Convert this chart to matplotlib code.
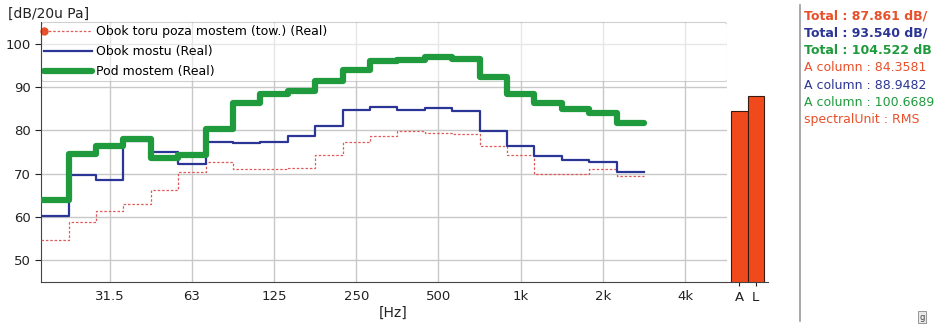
import numpy as np
import matplotlib
matplotlib.use('Agg')
import matplotlib.pyplot as plt

# 1/3-octave band centres 20 Hz .. 2.5 kHz
band_exp = np.arange(-17, 5)
centres = 1000 * 2.0 ** (band_exp / 3)
edges = np.append(centres * 2 ** (-1 / 6), centres[-1] * 2 ** (1 / 6))

# levels in dB
obok_toru = [54.6, 58.9, 61.4, 62.9, 66.2, 70.3, 72.7, 71.0, 71.1, 71.4, 74.3,
             77.3, 78.6, 79.8, 79.4, 79.2, 76.3, 74.3, 69.9, 69.9, 71.0, 69.4]
obok_mostu = [60.2, 69.7, 68.6, 77.5, 75.0, 72.2, 77.4, 77.0, 77.3, 78.6, 81.1,
              84.6, 85.4, 84.8, 85.1, 84.4, 79.8, 76.4, 74.0, 73.1, 72.6, 70.5]
pod_mostem = [63.9, 74.6, 76.3, 77.9, 73.7, 74.3, 80.3, 86.4, 88.3, 89.1, 91.3,
              94.0, 96.0, 96.2, 96.9, 96.5, 92.3, 88.3, 86.4, 85.0, 84.0, 81.7]

series_names = ['Obok toru poza mostem (tow.) (Real)', 'Obok mostu (Real)', 'Pod mostem (Real)']

tick_freqs = [31.25, 62.5, 125, 250, 500, 1000, 2000, 4000]
tick_labels = ['31.5', '63', '125', '250', '500', '1k', '2k', '4k']

bar_labels = ['A', 'L']
bar_values = [84.3581, 87.861]

info_lines = ['Total : 87.861 dB/', 'Total : 93.540 dB/', 'Total : 104.522 dB',
              'A column : 84.3581', 'A column : 88.9482', 'A column : 100.6689',
              'spectralUnit : RMS']

red = '#e8502a'
blue = '#2b3595'
green = '#1f9a3c'
info_colors = [red, blue, green, red, blue, green, red]
info_bold = [True, True, True, False, False, False, False]

W, H = 936, 325
plt.rcParams['font.family'] = ['DejaVu Sans']
fig = plt.figure(figsize=(W / 100, H / 100), dpi=100)

ax = fig.add_axes([41 / W, (H - 282) / H, (727 - 41) / W, (282 - 22) / H])
axb = fig.add_axes([727 / W, (H - 282) / H, (768 - 727) / W, (282 - 22) / H], sharey=ax)


def steps(vals):
    # repeat the last level so the final band is drawn to its upper edge
    return list(vals) + [vals[-1]]


ax.step(edges, steps(obok_toru), where='post', color='#e05a5a', lw=0.9,
        ls=(0, (2, 1.5)), label=series_names[0], zorder=3)
ax.step(edges, steps(obok_mostu), where='post', color=blue, lw=1.6,
        label=series_names[1], zorder=3)
ax.step(edges, steps(pod_mostem), where='post', color=green, lw=4.5,
        solid_joinstyle='round', solid_capstyle='round', label=series_names[2], zorder=3)

ax.set_xscale('log')
ax.set_xlim(17.5, 5700)
ax.set_ylim(45, 105)
ax.set_xticks(tick_freqs)
ax.set_xticklabels(tick_labels)
ax.minorticks_off()
ax.set_yticks([50, 60, 70, 80, 90, 100])
ax.grid(True, color='#c8c8c8', lw=1.0)
ax.set_axisbelow(True)
for s in ['top', 'right']:
    ax.spines[s].set_visible(False)
for s in ['left', 'bottom']:
    ax.spines[s].set_color('#444444')
ax.tick_params(axis='both', labelsize=9.5, colors='#222222', length=4, width=0.8)
ax.tick_params(axis='x', length=0, pad=6)

leg = ax.legend(loc='upper left', bbox_to_anchor=(0, 1, 1, 0), mode='expand',
                borderaxespad=0, fontsize=9, handlelength=3.85, handletextpad=0.3,
                labelspacing=0.55, borderpad=0.25, fancybox=True,
                framealpha=0.55, edgecolor='#aaaaaa')
leg.get_frame().set_linewidth(0.8)
leg.set_zorder(2)
h0 = leg.legend_handles[0]
h0.set_marker('o')
h0.set_markersize(5)
h0.set_markerfacecolor(red)
h0.set_markeredgecolor(red)
h0.set_markevery([0])

# A / L bars
axb.bar(range(len(bar_values)), bar_values, width=1.0, color='#f04a1c',
        edgecolor='#3a1a10', lw=0.8)
axb.set_xlim(-0.78, 1.78)
axb.set_xticks(range(len(bar_labels)))
axb.set_xticklabels(bar_labels)
for s in ['top', 'right', 'left']:
    axb.spines[s].set_visible(False)
axb.spines['bottom'].set_color('#444444')
axb.tick_params(axis='y', left=False, labelleft=False)
axb.tick_params(axis='x', labelsize=9.5, colors='#222222', length=3)

fig.text(8 / W, 1 - 14 / H, '[dB/20u Pa]', fontsize=10, color='#222222', va='center')
fig.text(393 / W, 1 - 313 / H, '[Hz]', fontsize=10, color='#222222', ha='center', va='center')

# info panel on the right
fig.add_artist(plt.Line2D([800 / W, 800 / W], [1 - 5 / H, 1 - 321 / H],
                          color='#999999', lw=1.2))
for i, (txt, c, b) in enumerate(zip(info_lines, info_colors, info_bold)):
    fig.text(804 / W, 1 - (16 + i * 17.3) / H, txt, color=c, fontsize=9,
             fontweight='bold' if b else 'normal', va='center')
fig.text(922 / W, 1 - 317 / H, 'g', fontsize=6, color='#444444', ha='center', va='center',
         bbox=dict(boxstyle='square,pad=0.2', fc='#e8e8e8', ec='#888888', lw=0.6))

fig.savefig('out.png', dpi=100)
